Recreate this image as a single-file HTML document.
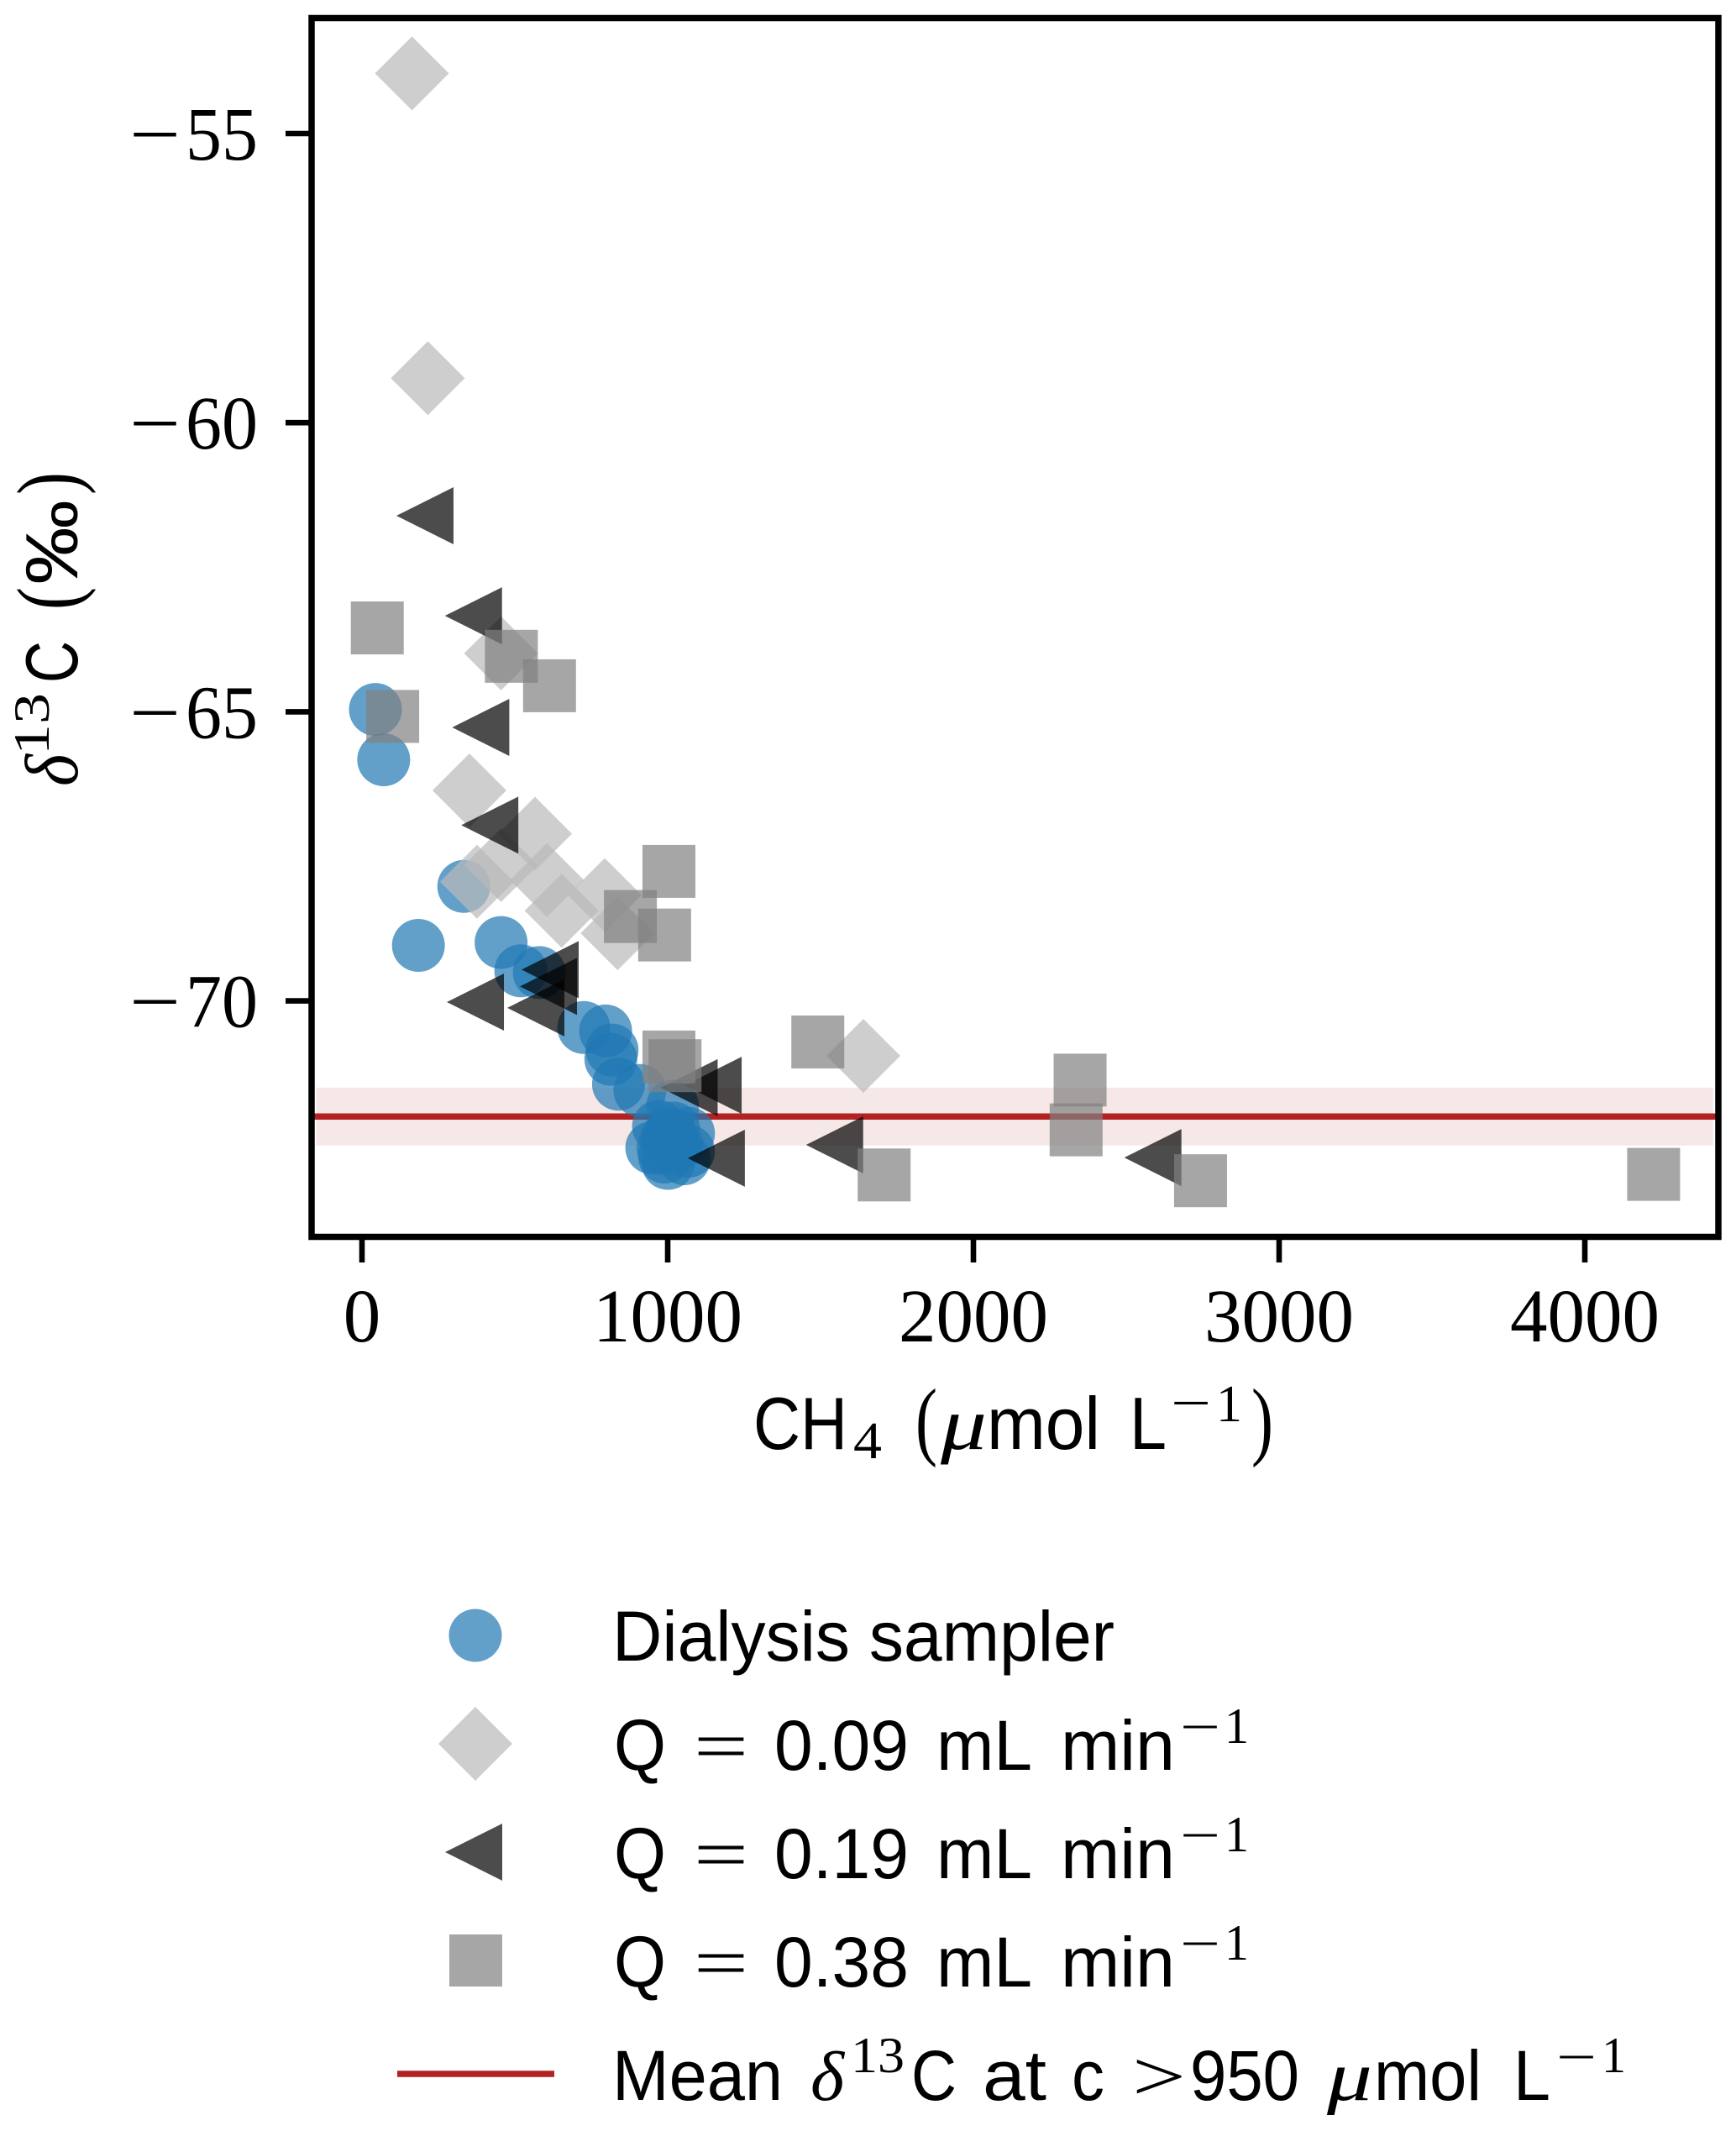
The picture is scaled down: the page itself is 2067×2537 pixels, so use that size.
<!DOCTYPE html>
<html lang="en">
<head>
<meta charset="utf-8">
<title>δ13C versus CH4 concentration</title>
<style>
html,body{margin:0;padding:0;background:#fff;}
svg{display:block;}
.sans{font-family:"Liberation Sans",sans-serif;fill:#000;}
.serif{font-family:"Liberation Serif",serif;fill:#000;}
.ital{font-family:"Liberation Serif",serif;font-style:italic;fill:#000;}
</style>
</head>
<body>
<svg id="chart" xmlns="http://www.w3.org/2000/svg" width="2067" height="2537" viewBox="0 0 2067 2537">
  <rect x="0" y="0" width="2067" height="2537" fill="#ffffff"/>
  <g id="plot"></g>
  <rect x="371" y="21.5" width="1675" height="1451" fill="none" stroke="#000" stroke-width="7.5"/>
  <g id="ticks"></g>

  <g>
    <text class="sans" x="897" y="1725" font-size="88" textLength="112" lengthAdjust="spacingAndGlyphs">CH</text>
    <text class="serif" x="1016" y="1736" font-size="62" textLength="34" lengthAdjust="spacingAndGlyphs">4</text>
    <text class="serif" x="1090" y="1725" font-size="104" textLength="26" lengthAdjust="spacingAndGlyphs">(</text>
    <text class="ital" x="1120" y="1725" font-size="88" textLength="55" lengthAdjust="spacingAndGlyphs">μ</text>
    <text class="sans" x="1175" y="1725" font-size="88" textLength="135" lengthAdjust="spacingAndGlyphs">mol</text>
    <text class="sans" x="1345" y="1725" font-size="88" textLength="44" lengthAdjust="spacingAndGlyphs">L</text>
    <text class="serif" x="1394" y="1691" font-size="62" textLength="48" lengthAdjust="spacingAndGlyphs">−</text>
    <text class="serif" x="1448" y="1692" font-size="62" textLength="31" lengthAdjust="spacingAndGlyphs">1</text>
    <text class="serif" x="1490" y="1725" font-size="104" textLength="26" lengthAdjust="spacingAndGlyphs">)</text>
  </g>

  <g>
    <text class="ital" transform="translate(92,936) rotate(-90)" font-size="90" textLength="38" lengthAdjust="spacingAndGlyphs">δ</text>
    <text class="serif" transform="translate(58,899) rotate(-90)" font-size="60" textLength="74" lengthAdjust="spacingAndGlyphs">13</text>
    <text class="sans" transform="translate(92,813) rotate(-90)" font-size="88" textLength="50" lengthAdjust="spacingAndGlyphs">C</text>
    <text class="serif" transform="translate(92,726) rotate(-90)" font-size="104" textLength="27" lengthAdjust="spacingAndGlyphs">(</text>
    <text class="sans" transform="translate(92,696) rotate(-90)" font-size="88" textLength="101" lengthAdjust="spacingAndGlyphs">‰</text>
    <text class="serif" transform="translate(92,589) rotate(-90)" font-size="104" textLength="27" lengthAdjust="spacingAndGlyphs">)</text>
  </g>

  <g>
    <g>
      <circle cx="566" cy="1947" r="31.5" fill="#1f77b4" fill-opacity="0.7"/>
      <text class="sans" x="729" y="1977" font-size="84" textLength="598" lengthAdjust="spacingAndGlyphs">Dialysis sampler</text>
    </g>
    <g>
      <polygon points="566,2032 610,2076 566,2120 522,2076" fill="#b9b9b9" fill-opacity="0.7"/>
      <text class="sans" x="731" y="2107" font-size="86" textLength="62" lengthAdjust="spacingAndGlyphs">Q</text>
      <text class="serif" x="826" y="2107" font-size="84" textLength="65" lengthAdjust="spacingAndGlyphs">=</text>
      <text class="sans" x="922" y="2107" font-size="84" textLength="160" lengthAdjust="spacingAndGlyphs">0.09</text>
      <text class="sans" x="1115" y="2107" font-size="84" textLength="114" lengthAdjust="spacingAndGlyphs">mL</text>
      <text class="sans" x="1263" y="2107" font-size="84" textLength="136" lengthAdjust="spacingAndGlyphs">min</text>
      <text class="serif" x="1405" y="2076" font-size="60" textLength="48" lengthAdjust="spacingAndGlyphs">−</text>
      <text class="serif" x="1458" y="2075" font-size="60" textLength="29" lengthAdjust="spacingAndGlyphs">1</text>
    </g>
    <g>
      <polygon points="530,2205 598,2171 598,2239" fill="#000" fill-opacity="0.7"/>
      <text class="sans" x="731" y="2236" font-size="86" textLength="62" lengthAdjust="spacingAndGlyphs">Q</text>
      <text class="serif" x="826" y="2236" font-size="84" textLength="65" lengthAdjust="spacingAndGlyphs">=</text>
      <text class="sans" x="922" y="2236" font-size="84" textLength="160" lengthAdjust="spacingAndGlyphs">0.19</text>
      <text class="sans" x="1115" y="2236" font-size="84" textLength="114" lengthAdjust="spacingAndGlyphs">mL</text>
      <text class="sans" x="1263" y="2236" font-size="84" textLength="136" lengthAdjust="spacingAndGlyphs">min</text>
      <text class="serif" x="1405" y="2205" font-size="60" textLength="48" lengthAdjust="spacingAndGlyphs">−</text>
      <text class="serif" x="1458" y="2204" font-size="60" textLength="29" lengthAdjust="spacingAndGlyphs">1</text>
    </g>
    <g>
      <rect x="535" y="2303" width="63" height="62" fill="#808080" fill-opacity="0.7"/>
      <text class="sans" x="731" y="2365" font-size="86" textLength="62" lengthAdjust="spacingAndGlyphs">Q</text>
      <text class="serif" x="826" y="2365" font-size="84" textLength="65" lengthAdjust="spacingAndGlyphs">=</text>
      <text class="sans" x="922" y="2365" font-size="84" textLength="160" lengthAdjust="spacingAndGlyphs">0.38</text>
      <text class="sans" x="1115" y="2365" font-size="84" textLength="114" lengthAdjust="spacingAndGlyphs">mL</text>
      <text class="sans" x="1263" y="2365" font-size="84" textLength="136" lengthAdjust="spacingAndGlyphs">min</text>
      <text class="serif" x="1405" y="2334" font-size="60" textLength="48" lengthAdjust="spacingAndGlyphs">−</text>
      <text class="serif" x="1458" y="2333" font-size="60" textLength="29" lengthAdjust="spacingAndGlyphs">1</text>
    </g>
    <g>
      <rect x="473" y="2465.25" width="187" height="7.5" fill="#b22222"/>
      <text class="sans" x="729" y="2500" font-size="84" textLength="203" lengthAdjust="spacingAndGlyphs">Mean</text>
      <text class="ital" x="965" y="2500" font-size="84" textLength="40" lengthAdjust="spacingAndGlyphs">δ</text>
      <text class="serif" x="1013" y="2467" font-size="60" textLength="64" lengthAdjust="spacingAndGlyphs">13</text>
      <text class="sans" x="1085" y="2500" font-size="84" textLength="54" lengthAdjust="spacingAndGlyphs">C</text>
      <text class="sans" x="1170" y="2500" font-size="84" textLength="76" lengthAdjust="spacingAndGlyphs">at</text>
      <text class="sans" x="1276" y="2500" font-size="84" textLength="39" lengthAdjust="spacingAndGlyphs">c</text>
      <text class="serif" x="1348" y="2500" font-size="84" textLength="64" lengthAdjust="spacingAndGlyphs">&gt;</text>
      <text class="sans" x="1417" y="2500" font-size="84" textLength="130" lengthAdjust="spacingAndGlyphs">950</text>
      <text class="ital" x="1580" y="2500" font-size="84" textLength="54" lengthAdjust="spacingAndGlyphs">μ</text>
      <text class="sans" x="1636" y="2500" font-size="84" textLength="128" lengthAdjust="spacingAndGlyphs">mol</text>
      <text class="sans" x="1802" y="2500" font-size="84" textLength="44" lengthAdjust="spacingAndGlyphs">L</text>
      <text class="serif" x="1853" y="2469" font-size="60" textLength="48" lengthAdjust="spacingAndGlyphs">−</text>
      <text class="serif" x="1907" y="2467" font-size="60" textLength="29" lengthAdjust="spacingAndGlyphs">1</text>
    </g>
  </g>
</svg>

<script>
const xTickValues = [0, 1000, 2000, 3000, 4000];
const xTickLabels = ["0", "1000", "2000", "3000", "4000"];
const yTickValues = [-55, -60, -65, -70];
const yTickLabels = ["−55", "−60", "−65", "−70"];

const dialysisX = [44, 71, 333, 184.6, 455, 519.5, 580, 725.5, 797, 818, 814, 839, 909, 1016, 970, 1068, 948, 998, 1019, 1001, 1054, 1068, 1019, 985, 1010, 1030, 990];
const dialysisY = [-64.96, -65.83, -68.02, -69.04, -68.99, -69.48, -69.51, -70.46, -70.52, -70.85, -71.01, -71.44, -71.55, -71.82, -72.17, -72.29, -72.54, -72.36, -72.49, -72.81, -72.73, -72.6, -72.2, -72.55, -72.3, -72.5, -72.7];

const q009X = [163.5, 215.4, 455, 351.4, 566, 455, 376, 605, 653, 794, 836, 1640];
const q009Y = [-53.96, -59.23, -63.99, -66.36, -67.11, -67.65, -67.94, -67.91, -68.44, -68.17, -68.83, -70.95];

const q019X = [206, 364.6, 388.5, 418, 615.4, 610, 371, 568.7, 1070, 1148.5, 1159, 1546, 2587];
const q019Y = [-61.61, -63.34, -65.27, -66.96, -69.46, -69.75, -70.02, -70.12, -71.5, -71.46, -72.72, -72.49, -72.71];

const q038X = [50, 488.7, 613.5, 100.5, 1004, 878, 990, 1004, 1024, 1491, 1708, 2349, 2336, 2743, 4225];
const q038Y = [-63.55, -64.04, -64.55, -65.08, -67.76, -68.54, -68.86, -70.97, -71.12, -70.71, -73.01, -71.37, -72.23, -73.11, -73];

const meanValue = [-72];
const bandLimits = [-72.5, -71.5];
const bandRange = [-150, 4420];
const axisXLimits = [-164, 4437];

const NS = "http://www.w3.org/2000/svg";
const plot = document.getElementById("plot");
const ticks = document.getElementById("ticks");

function xScale(v) { return 431 + v * 0.364; }
function yScale(v) { return 159 + (-55 - v) * 68.84; }

function make(tag, attrs, parent) {
  const el = document.createElementNS(NS, tag);
  for (const k in attrs) el.setAttribute(k, attrs[k]);
  parent.appendChild(el);
  return el;
}

// confidence band and mean line
const band = make("rect", {
  x: xScale(bandRange[0]),
  y: yScale(bandLimits[1]),
  width: xScale(bandRange[1]) - xScale(bandRange[0]),
  height: yScale(bandLimits[0]) - yScale(bandLimits[1]),
  fill: "#b22222",
  "fill-opacity": 0.1
}, plot);



const meanLine = make("line", {
  x1: xScale(axisXLimits[0]),
  x2: xScale(axisXLimits[1]),
  y1: yScale(meanValue[0]),
  y2: yScale(meanValue[0]),
  stroke: "#b22222",
  "stroke-width": 7.5
}, plot);



// series, in the stacking order of the reference
dialysisX.forEach(function (v, i) {
  const m = make("circle", { cx: xScale(v), cy: yScale(dialysisY[i]), r: 31.5, fill: "#1f77b4", "fill-opacity": 0.7 }, plot);
  
  
});

q009X.forEach(function (v, i) {
  const cx = xScale(v), cy = yScale(q009Y[i]), r = 44;
  const m = make("polygon", {
    points: cx + "," + (cy - r) + " " + (cx + r) + "," + cy + " " + cx + "," + (cy + r) + " " + (cx - r) + "," + cy,
    fill: "#b9b9b9", "fill-opacity": 0.7
  }, plot);
  
  
});

q019X.forEach(function (v, i) {
  const cx = xScale(v), cy = yScale(q019Y[i]), r = 34;
  const m = make("polygon", {
    points: (cx - r) + "," + cy + " " + (cx + r) + "," + (cy - r) + " " + (cx + r) + "," + (cy + r),
    fill: "#000", "fill-opacity": 0.7
  }, plot);
  
  
});

q038X.forEach(function (v, i) {
  const s = 63;
  const m = make("rect", {
    x: xScale(v) - s / 2, y: yScale(q038Y[i]) - s / 2, width: s, height: s,
    fill: "#808080", "fill-opacity": 0.7
  }, plot);
  
  
});

// axis ticks and labels
xTickValues.forEach(function (v, i) {
  const px = xScale(v);
  const t = make("line", { x1: px, x2: px, y1: 1475, y2: 1503, stroke: "#000", "stroke-width": 6.6 }, ticks);
  
  
  const len = xTickLabels[i].length * 44.5;
  const lab = make("text", {
    class: "serif", x: px - len / 2, y: 1597, "font-size": 90,
    textLength: len, lengthAdjust: "spacingAndGlyphs"
  }, ticks);
  lab.textContent = xTickLabels[i];
  
  
});

yTickValues.forEach(function (v, i) {
  const py = yScale(v);
  const t = make("line", { x1: 340, x2: 368, y1: py, y2: py, stroke: "#000", "stroke-width": 6.6 }, ticks);
  
  
  const minus = make("text", {
    class: "serif", x: 154, y: py + 31, "font-size": 90,
    textLength: 61, lengthAdjust: "spacingAndGlyphs"
  }, ticks);
  minus.textContent = yTickLabels[i].slice(0, 1);
  
  
  const lab = make("text", {
    class: "serif", x: 221, y: py + 31, "font-size": 90,
    textLength: 86, lengthAdjust: "spacingAndGlyphs"
  }, ticks);
  lab.textContent = yTickLabels[i].slice(1);
  
  
});
</script>
</body>
</html>
